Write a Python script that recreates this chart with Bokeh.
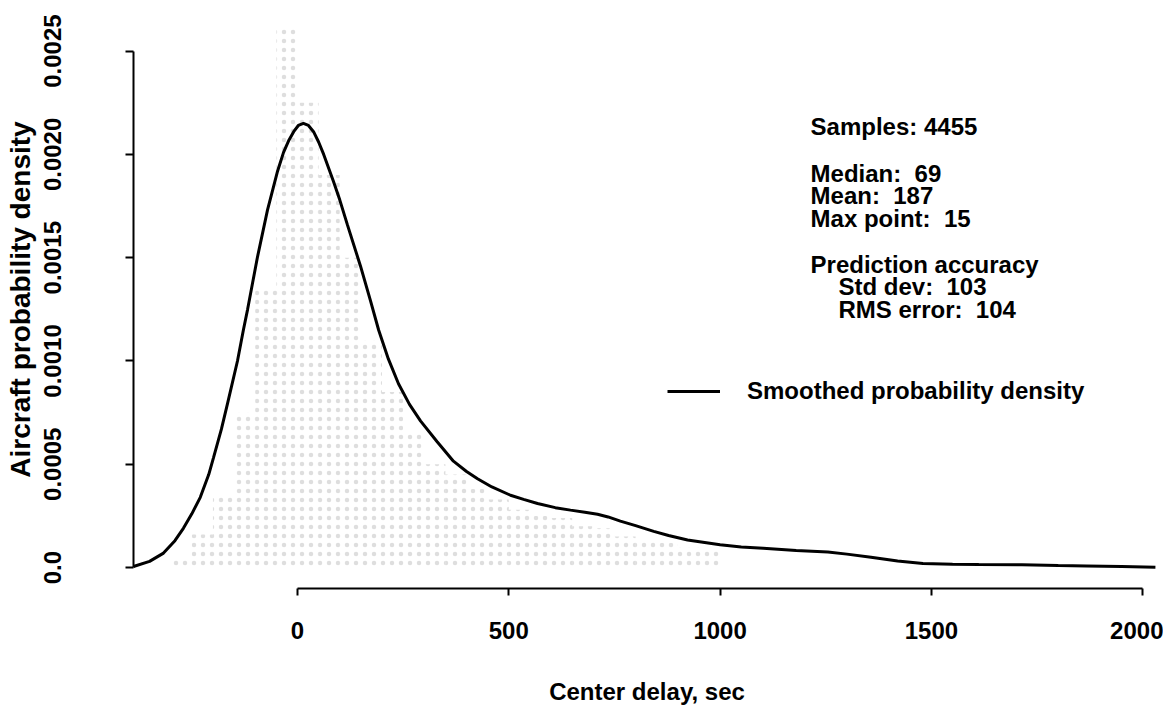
import numpy as np
from bokeh.plotting import figure
from bokeh.models import FixedTicker, Range1d, Legend, LegendItem, ColumnDataSource
from bokeh.embed import file_html
from bokeh.resources import INLINE
from bokeh.core.properties import value

# ---- data ----
delay_sec = [-388, -350, -317, -290, -270, -250, -230, -210, -199, -180, -166, -142, -128, -118,
             -95, -71, -47, -33, -20, -9, 2, 14, 26, 38, 50, 62, 85, 100, 118, 149, 173, 192,
             215, 239, 265, 291, 330, 369, 400, 426, 460, 504, 535, 568, 610, 646, 680, 710,
             735, 764, 800, 843, 878, 923, 1000, 1050, 1102, 1180, 1255, 1300, 1357, 1420,
             1480, 1550, 1612, 1714, 1800, 1867, 1950, 2030]
density = [0.000005, 0.00003, 0.00007, 0.00013, 0.00019, 0.00026, 0.00034, 0.00045, 0.00053,
           0.00067, 0.00079, 0.00100, 0.00115, 0.00125, 0.00150, 0.00173, 0.00192, 0.00201,
           0.00207, 0.00211, 0.00214, 0.00215, 0.00214, 0.00211, 0.00206, 0.00200, 0.00187,
           0.00178, 0.00166, 0.00146, 0.00129, 0.00115, 0.00101, 0.00089, 0.00079, 0.00071,
           0.00061, 0.000515, 0.000465, 0.00043, 0.00039, 0.00035, 0.00033, 0.00031, 0.00029,
           0.000278, 0.000268, 0.000258, 0.000245, 0.000225, 0.000203, 0.000175, 0.000155,
           0.000133, 0.00011, 0.0001, 0.000093, 0.000082, 0.000075, 0.000065, 0.00005,
           0.000032, 0.00002, 0.000016, 0.000015, 0.000014, 0.00001, 0.000008, 0.000005,
           0.000002]

hist_left = [-300, -250, -200, -150, -100, -50, 0, 50, 100, 150, 200, 250, 300, 350, 400,
             450, 500, 550, 600, 650, 700, 750, 800, 850, 900, 950]
hist_right = [-250, -200, -150, -100, -50, 0, 50, 100, 150, 200, 250, 300, 350, 400, 450,
              500, 550, 600, 650, 700, 750, 800, 850, 900, 950, 1000]
hist_height = [0.00005, 0.00016, 0.00035, 0.00075, 0.00135, 0.00262, 0.00225, 0.00190,
               0.00150, 0.00110, 0.00085, 0.00065, 0.00050, 0.00045, 0.00038, 0.00033,
               0.00028, 0.00025, 0.00024, 0.00020, 0.00019, 0.00015, 0.00013, 0.00012,
               0.00010, 0.00009]

x_ticks = [0, 500, 1000, 1500, 2000]
y_ticks = [0.0, 0.0005, 0.0010, 0.0015, 0.0020, 0.0025]
y_tick_labels = ["0.0", "0.0005", "0.0010", "0.0015", "0.0020", "0.0025"]

samples = 4455
median = 69
mean = 187
max_point = 15
std_dev = 103
rms_error = 104

FONT = "Liberation Sans"
SP = "\u00a0"

p = figure(width=1163, height=717,
           x_range=Range1d(-388, 2042), y_range=Range1d(-0.0001014, 0.0026966),
           output_backend="svg", toolbar_location=None,
           min_border_left=133, min_border_right=3, min_border_top=10, min_border_bottom=129)
p.grid.visible = False
p.outline_line_color = None
p.background_fill_color = "white"
p.border_fill_color = "white"

# histogram (faint stipple)
p.quad(left=hist_left, right=hist_right, top=hist_height, bottom=0,
       fill_alpha=0, line_alpha=0, hatch_pattern="dot", hatch_color="#b5b5b5",
       hatch_scale=9, hatch_weight=0.8, hatch_alpha=0.45)

curve = p.line(delay_sec, density, line_color="black", line_width=3)

# axes
xa = p.xaxis[0]
xa.ticker = FixedTicker(ticks=x_ticks)
xa.bounds = (0, 2000)
xa.axis_line_width = 2
xa.axis_line_color = "black"
xa.major_tick_line_width = 2
xa.major_tick_line_color = "black"
xa.major_tick_out = 7
xa.major_tick_in = 0
xa.minor_tick_line_color = None
xa.major_label_standoff = 26
xa.major_label_text_font = FONT
xa.major_label_text_font_style = "bold"
xa.major_label_text_font_size = "24px"
xa.major_label_text_color = "black"
xa.axis_label = "Center delay, sec"
xa.axis_label_text_font = FONT
xa.axis_label_text_font_style = "bold"
xa.axis_label_text_font_size = "24px"
xa.axis_label_text_color = "black"
xa.axis_label_standoff = 36

ya = p.yaxis[0]
ya.ticker = FixedTicker(ticks=y_ticks)
ya.major_label_overrides = {t: l for t, l in zip(y_ticks, y_tick_labels)}
ya.bounds = (0, 0.0025)
ya.axis_line_width = 2
ya.axis_line_color = "black"
ya.major_tick_line_width = 2
ya.major_tick_line_color = "black"
ya.major_tick_out = 8
ya.major_tick_in = 0
ya.minor_tick_line_color = None
ya.major_label_orientation = "vertical"
ya.major_label_standoff = 64
ya.major_label_text_font = FONT
ya.major_label_text_font_style = "bold"
ya.major_label_text_font_size = "24px"
ya.major_label_text_color = "black"
ya.axis_label = "Aircraft probability density"
ya.axis_label_text_font = FONT
ya.axis_label_text_font_style = "bold"
ya.axis_label_text_font_size = "28px"
ya.axis_label_text_color = "black"
ya.axis_label_standoff = 6

# statistics text block
lines = [f"Samples: {samples}",
         f"Median:{SP} {median}",
         f"Mean:{SP} {mean}",
         f"Max point:{SP} {max_point}",
         "Prediction accuracy",
         f"Std dev:{SP} {std_dev}",
         f"RMS error:{SP} {rms_error}"]
line_x = [1214, 1214, 1214, 1214, 1214, 1280, 1280]
line_y = [0.002135, 0.001908, 0.001802, 0.001691, 0.001469, 0.001362, 0.001251]
src = ColumnDataSource(dict(x=line_x, y=line_y, t=lines))
p.text(x="x", y="y", text="t", source=src, text_font=value(FONT), text_font_style="bold",
       text_font_size="24px", text_baseline="alphabetic", text_align="left", text_color="black")

legend = Legend(items=[LegendItem(label="Smoothed probability density", renderers=[curve])],
                location=(534, 183), glyph_width=53, glyph_height=24, label_standoff=27,
                padding=0, margin=0, border_line_alpha=0, background_fill_alpha=0,
                label_text_font=FONT, label_text_font_style="bold",
                label_text_font_size="24px", label_text_color="black")
p.add_layout(legend)

open("out.html", "w").write(file_html(p, INLINE))
